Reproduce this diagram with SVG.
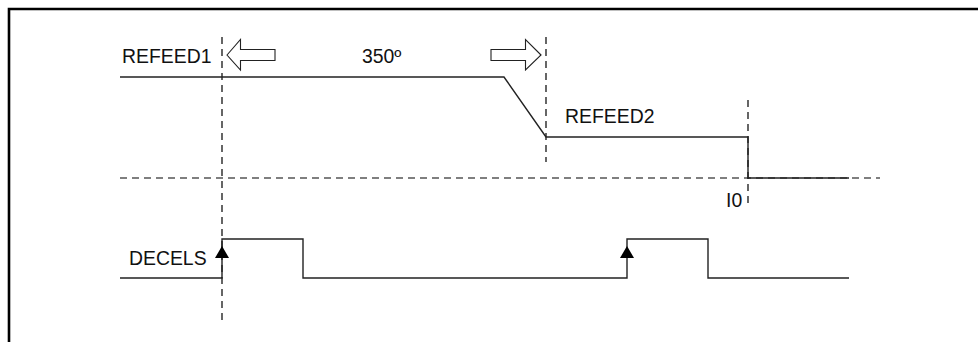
<svg xmlns="http://www.w3.org/2000/svg" width="978" height="342" viewBox="0 0 978 342">
<style>
.t{font-family:"Liberation Sans",Arial,sans-serif;font-size:19.4px;fill:#111}
.sig{fill:none;stroke:#222;stroke-width:1.4}
.dash{fill:none;stroke:#000;stroke-width:1.2;stroke-dasharray:7,5}
.harrow{fill:#fff;stroke:#222;stroke-width:1.1}
.tri{fill:#000}
</style>
<rect width="978" height="342" fill="#fff"/>
<path d="M9,342 V9 H978" fill="none" stroke="#000" stroke-width="2.6"/>
<g id="connectors">
<path class="dash" d="M222,37 V324"/>
<path class="dash" d="M546,37 V162"/>
<path class="dash" d="M748,100 V206"/>
<path class="dash" d="M120,178 H880"/>
</g>
<g id="refeed-signal">
<path class="sig" d="M120,77 H504 L546,137 H748 V178 H849"/>
</g>
<g id="decels-signal">
<path class="sig" d="M120,278 H222 V239 H303 V278 H627 V239 H708 V278 H849"/>
<polygon class="tri" points="222,246 229,258 215,258"/>
<polygon class="tri" points="627,246 634,258 620,258"/>
</g>
<g id="arrow-left">
<polygon class="harrow" points="227,55 240.5,39.5 240.5,49.5 275,49.5 275,60.5 240.5,60.5 240.5,70"/>
</g>
<g id="arrow-right">
<polygon class="harrow" points="541,55 525.5,39.5 525.5,49.5 491,49.5 491,60.5 525.5,60.5 525.5,70"/>
</g>
<g id="labels">
<text class="t" x="122" y="63">REFEED1</text>
<text class="t" x="362" y="63">350º</text>
<text class="t" x="565" y="123">REFEED2</text>
<text class="t" x="726" y="207">I0</text>
<text class="t" x="129" y="265">DECELS</text>
</g>
</svg>
